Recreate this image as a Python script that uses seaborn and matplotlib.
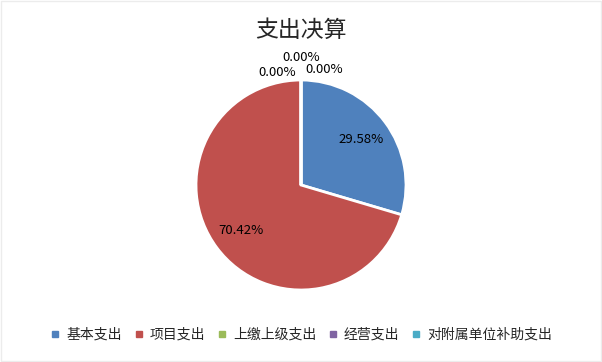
import matplotlib
matplotlib.use("Agg")
import matplotlib.pyplot as plt
import seaborn as sns
from matplotlib.patches import Rectangle
from matplotlib.lines import Line2D

categories = ["基本支出", "项目支出", "上缴上级支出", "经营支出", "对附属单位补助支出"]
values = [29.58, 70.42, 0.0, 0.0, 0.0]
colors = ["#4F81BD", "#C0504D", "#9BBB59", "#8064A2", "#4BACC6"]
title = "支出决算"

sns.set_theme(style="white")
plt.rcParams['font.family'] = ['Noto Sans CJK SC', 'DejaVu Sans']

fig = plt.figure(figsize=(6.02, 3.62), dpi=100)
fig.patch.set_facecolor("white")
fig.patches.append(Rectangle((0.002, 0.002), 0.996, 0.994, transform=fig.transFigure,
                             fill=False, edgecolor="#ececec", linewidth=1))

ax = fig.add_axes([196 / 602, 72 / 362, 210 / 602, 210 / 362])
wedges, texts, autotexts = ax.pie(
    values, colors=colors, startangle=90, counterclock=False,
    autopct=lambda p: f"{p:.2f}%", pctdistance=0.72,
    wedgeprops=dict(edgecolor="white", linewidth=2),
    textprops=dict(fontsize=9.5, color="black"))
ax.set_aspect("equal")
ax.set_xlim(-1, 1)
ax.set_ylim(-1, 1)

zero_pos = [(0.0, 1.21), (0.22, 1.10), (-0.23, 1.07)]
k = 0
for v, t in zip(values, autotexts):
    if v == 0:
        t.set_position(zero_pos[k])
        t.set_clip_on(False)
        k += 1

fig.text(0.5, 1 - 30 / 362, title, ha="center", va="center", fontsize=16.5)

handles = [Line2D([0], [0], marker="s", linestyle="", markersize=5,
                  markerfacecolor=c, markeredgecolor=c) for c in colors]
fig.legend(handles, categories, loc="center", bbox_to_anchor=(0.5, 1 - 335 / 362),
           ncol=5, frameon=False, fontsize=10, handlelength=0.8, handletextpad=0.4,
           columnspacing=0.8)

fig.savefig("out.png", dpi=100)
